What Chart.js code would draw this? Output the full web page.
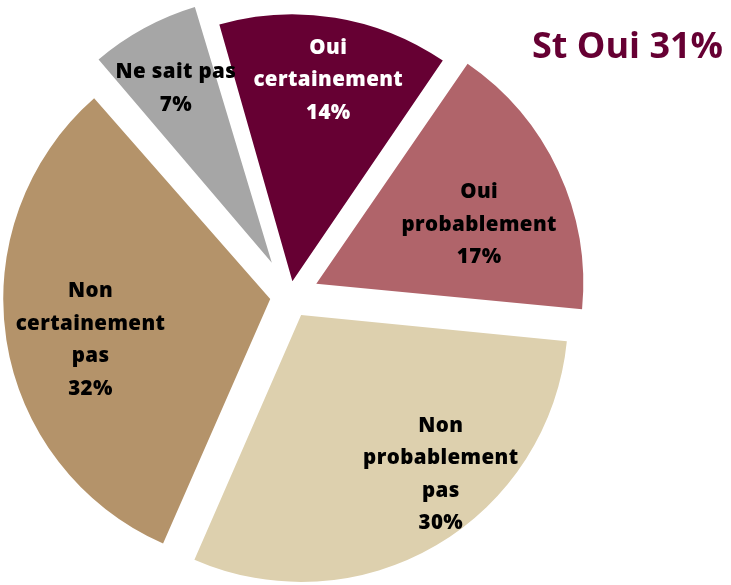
<!DOCTYPE html>
<html>
<head>
<meta charset="utf-8">
<script src="https://cdn.jsdelivr.net/npm/chart.js@4.4.1/dist/chart.umd.min.js"></script>
<style>
  html, body { margin: 0; padding: 0; background: #fff; }
  #wrap { width: 731px; height: 585px; position: relative; }
</style>
</head>
<body>
<div id="wrap"><canvas id="pie"></canvas></div>
<script>
// Données
const categories = ['Oui certainement', 'Oui probablement', 'Non probablement pas', 'Non certainement pas', 'Ne sait pas'];
const shares = [14, 17, 30, 32, 7];
const labelLines = [['Oui', 'certainement'], ['Oui', 'probablement'], ['Non', 'probablement', 'pas'], ['Non', 'certainement', 'pas'], ['Ne sait pas']];
const titleText = 'St Oui 31%';

// Style
const sliceColors = ['#660033', '#b0646a', '#ddd0ae', '#b4936a', '#a6a6a6'];
const textColors = ['#ffffff', '#000000', '#000000', '#000000', '#000000'];
const explode = [15, 29, 22, 20, 38];          // décalage en px
const labelAnchor = [[0.77, 10], [0.65, 69.6], [0.79, 138.6], [0.69, 257.6], [0.75, -28.7]]; // [fraction du rayon, angle]
const RADIUS = 267;
const FONT = '"Open Sans", "DejaVu Sans", sans-serif';
const LABEL_SIZE = 20.5;
const LINE_H = 32.5;

// Chart.js divise l'offset par 4 et agrandit un peu le rayon : on compense
const fixRadius = {
    id: 'fixRadius',
    afterDatasetUpdate(chart, args) {
        args.meta.data.forEach(a => {
            const d = (a.options.offset || 0) / 4;
            const fix = 1 - Math.sin(Math.min(Math.PI, a.circumference));
            a.outerRadius = RADIUS - d * fix;
        });
    }
};

const sliceLabels = {
    id: 'sliceLabels',
    afterDatasetsDraw(chart) {
        const ctx = chart.ctx;
        const meta = chart.getDatasetMeta(0);
        ctx.save();
        ctx.font = `800 ${LABEL_SIZE}px ${FONT}`;
        ctx.letterSpacing = '0.4px';
        ctx.textAlign = 'center';
        ctx.textBaseline = 'alphabetic';
        meta.data.forEach((a, i) => {
            const mid = (a.startAngle + a.endAngle) / 2;
            const d = (a.options.offset || 0) / 4;
            const cx = a.x + Math.cos(mid) * d;
            const cy = a.y + Math.sin(mid) * d;
            const [f, deg] = labelAnchor[i];
            const t = (deg - 90) * Math.PI / 180;
            const px = cx + Math.cos(t) * RADIUS * f;
            const py = cy + Math.sin(t) * RADIUS * f;
            const lines = [...labelLines[i], shares[i] + '%'];
            const y0 = py - (lines.length - 1) / 2 * LINE_H;
            ctx.fillStyle = textColors[i];
            lines.forEach((s, k) => ctx.fillText(s, px + 0.2, y0 + k * LINE_H + LABEL_SIZE * 0.357));
        });
        // titre
        ctx.letterSpacing = '0px';
        ctx.font = `bold 36px ${FONT}`;
        ctx.fillStyle = '#660033';
        ctx.fillText(titleText, 627.5, 58);
        ctx.restore();
    }
};

new Chart(document.getElementById('pie'), {
    type: 'pie',
    data: {
        labels: categories,
        datasets: [{
            data: shares,
            backgroundColor: sliceColors,
            borderWidth: 0,
            offset: explode.map(v => v * 4)
        }]
    },
    options: {
        responsive: true, maintainAspectRatio: false, animation: false,
        rotation: -16,
        radius: RADIUS,
        layout: { padding: { left: 0, right: 151, top: 7, bottom: 0 } },
        plugins: { legend: { display: false }, tooltip: { enabled: false } }
    },
    plugins: [fixRadius, sliceLabels]
});
</script>
</body>
</html>
